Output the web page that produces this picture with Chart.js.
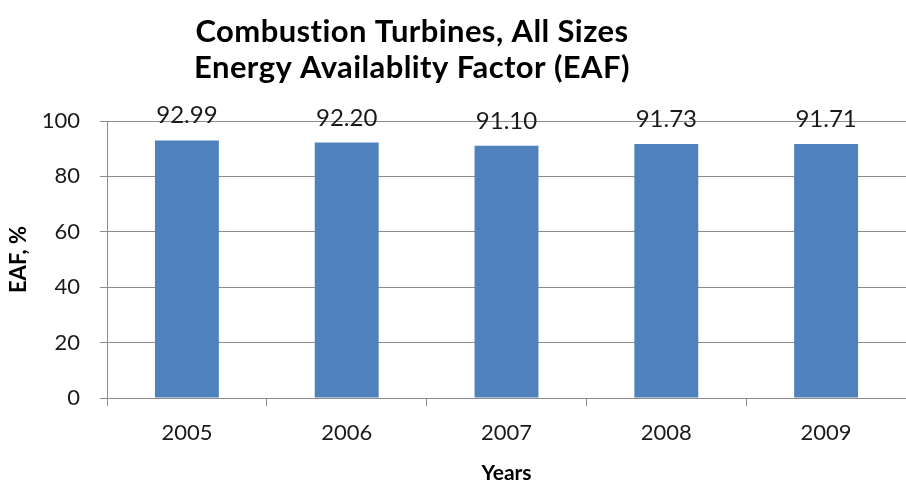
<!DOCTYPE html>
<html>
<head>
<meta charset="utf-8">
<script src="https://cdn.jsdelivr.net/npm/chart.js@4.4.1/dist/chart.umd.min.js"></script>
<style>
    html, body { margin: 0; padding: 0; background: #fff; }
    #wrap { width: 906px; height: 483px; }
</style>
</head>
<body>
<div id="wrap"><canvas id="chart"></canvas></div>
<script>
const years = ['2005', '2006', '2007', '2008', '2009'];
const eafValues = [92.99, 92.20, 91.10, 91.73, 91.71];
const yTicks = [0, 20, 40, 60, 80, 100];
const titleLines = ['Combustion Turbines, All Sizes', 'Energy Availablity Factor (EAF)'];

const FONT = 'Lato, "Open Sans", sans-serif';
const GRID = '#8c8c8c';

// title drawn by hand, Excel puts it a bit left of center
const titlePlugin = {
    id: 'excelTitle',
    afterDraw(chart) {
        const c = chart.ctx;
        c.save();
        c.font = `bold 31px ${FONT}`;
        c.letterSpacing = '0.4px'; // also kills the "ti" ligature
        c.fillStyle = '#000';
        c.textAlign = 'center';
        c.textBaseline = 'alphabetic';
        c.fillText(titleLines[0], 412, 42);
        c.fillText(titleLines[1], 412, 78);
        c.restore();
    }
};

// value labels above each bar
const valueLabels = {
    id: 'valueLabels',
    afterDatasetsDraw(chart) {
        const c = chart.ctx;
        const meta = chart.getDatasetMeta(0);
        c.save();
        c.font = `24px ${FONT}`;
        c.fillStyle = '#1a1a1a';
        c.textAlign = 'center';
        c.textBaseline = 'alphabetic';
        meta.data.forEach((bar, i) => {
            c.fillText(eafValues[i].toFixed(2), bar.x, bar.y - 17);
        });
        c.restore();
    }
};

new Chart(document.getElementById('chart'), {
    type: 'bar',
    data: {
        labels: years,
        datasets: [{
            label: 'EAF',
            data: eafValues,
            backgroundColor: '#4f81bd',
            borderWidth: 0,
            barPercentage: 0.4,
            categoryPercentage: 1.0
        }]
    },
    options: {
        responsive: true,
        maintainAspectRatio: false,
        animation: false,
        layout: { padding: { top: 121, right: 0, left: 0, bottom: 0 } },
        plugins: {
            legend: { display: false },
            tooltip: { enabled: false },
            title: { display: false }
        },
        scales: {
            x: {
                offset: true,
                afterFit: s => { s.height = 85; },
                grid: { offset: true, drawOnChartArea: false, tickLength: 8, color: GRID },
                border: { display: true, color: GRID },
                ticks: { color: '#1a1a1a', font: { family: FONT, size: 22 }, padding: 14 },
                title: { display: true, text: 'Years', color: '#000', font: { family: FONT, size: 21, weight: 'bold' }, padding: { top: 4, bottom: -3 } }
            },
            y: {
                min: 0,
                max: 100,
                afterFit: s => { s.width = 107; },
                afterBuildTicks: s => { s.ticks = yTicks.map(v => ({ value: v })); },
                grid: { color: GRID, tickLength: 7 },
                border: { display: true, color: GRID },
                ticks: { color: '#1a1a1a', font: { family: FONT, size: 22 }, padding: 20 },
                title: { display: true, text: 'EAF, %', color: '#000', font: { family: FONT, size: 22, weight: 'bold' }, padding: { top: 6, bottom: 0 } }
            }
        }
    },
    plugins: [titlePlugin, valueLabels]
});
</script>
</body>
</html>
